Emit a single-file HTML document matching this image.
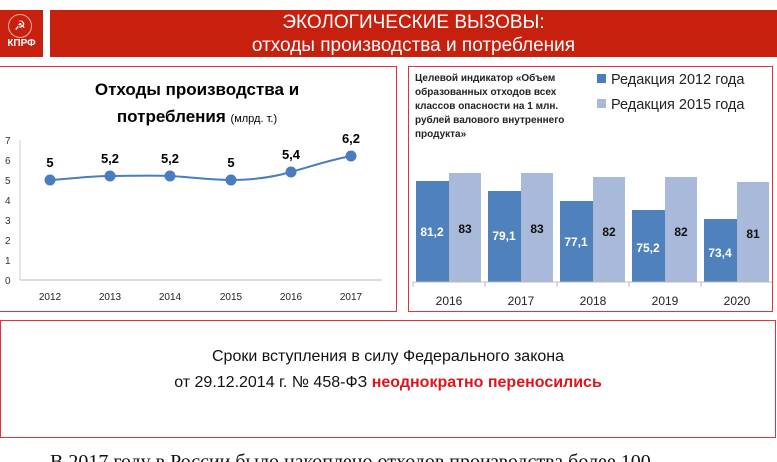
<!DOCTYPE html>
<html><head><meta charset="utf-8"><style>
body{margin:0;width:777px;height:462px;background:#fff;position:relative;overflow:hidden;font-family:"Liberation Sans","DejaVu Sans",sans-serif}
.abs{position:absolute}
</style></head><body>
<div class="abs" style="left:0;top:10px;width:43px;height:47px;background:#c8200f"></div>
<div class="abs" style="left:0;top:38px;width:43px;text-align:center;color:#fff;font-weight:bold;font-size:10px">КПРФ</div>
<div class="abs" style="left:8px;top:14px;width:22px;height:22px;border:1px solid #f0b0a0;border-radius:50%;color:#fff;font-size:13px;text-align:center;line-height:22px">☭</div>
<div class="abs" style="left:50px;top:10px;width:727px;height:47px;background:#c8200f"></div>
<div class="abs" style="left:50px;top:11px;width:727px;text-align:center;color:#fff;font-size:19px;line-height:23px">ЭКОЛОГИЧЕСКИЕ ВЫЗОВЫ:<br>отходы производства и потребления</div>

<div class="abs" style="left:-2px;top:66px;width:397px;height:244px;border:1.5px solid #e0343a"></div>
<div class="abs" style="left:408px;top:66px;width:363px;height:244px;border:1.5px solid #e0343a"></div>
<div class="abs" style="left:0;top:320px;width:774px;height:116px;border:1.5px solid #e0343a"></div>

<svg class="abs" style="left:0;top:0" width="777" height="462" font-family="Liberation Sans, DejaVu Sans, sans-serif">
<text x="197" y="95" text-anchor="middle" font-size="17" font-weight="bold">Отходы производства и</text>
<text x="197" y="122" text-anchor="middle" font-size="17" font-weight="bold">потребления <tspan font-size="11" font-weight="normal">(млрд. т.)</tspan></text>
<g font-size="10" fill="#333">
<text x="5" y="144">7</text><text x="5" y="164">6</text><text x="5" y="184">5</text><text x="5" y="204">4</text><text x="5" y="224">3</text><text x="5" y="244">2</text><text x="5" y="264">1</text><text x="5" y="284">0</text>
</g>
<line x1="20" y1="140" x2="20" y2="280" stroke="#ccc"/>
<line x1="20" y1="280" x2="382" y2="280" stroke="#bbb"/>
<g font-size="10" fill="#222" text-anchor="middle">
<text x="50" y="300">2012</text><text x="110" y="300">2013</text><text x="170" y="300">2014</text><text x="231" y="300">2015</text><text x="291" y="300">2016</text><text x="351" y="300">2017</text>
</g>
<path d="M50,180 C80,178 90,176 110,176 S150,175 170,176 S210,180 231,180 S270,178 291,172 S330,160 351,156" fill="none" stroke="#4a7cc0" stroke-width="2"/>
<g fill="#4a7cc0"><circle cx="50" cy="180" r="5.5"/><circle cx="110" cy="176" r="5.5"/><circle cx="170" cy="176" r="5.5"/><circle cx="231" cy="180" r="5.5"/><circle cx="291" cy="172" r="5.5"/><circle cx="351" cy="156" r="5.5"/></g>
<g font-size="13" font-weight="bold" text-anchor="middle">
<text x="50" y="167">5</text><text x="110" y="163">5,2</text><text x="170" y="163">5,2</text><text x="231" y="167">5</text><text x="291" y="159">5,4</text><text x="351" y="143">6,2</text>
</g>

<g font-size="10" font-weight="bold" fill="#222">
<text x="415" y="81">Целевой индикатор «Объем</text>
<text x="415" y="95">образованных отходов всех</text>
<text x="415" y="109">классов опасности на 1 млн.</text>
<text x="415" y="123">рублей валового внутреннего</text>
<text x="415" y="137">продукта»</text>
</g>
<rect x="597" y="74" width="9" height="9" fill="#4a7cc0"/>
<rect x="597" y="99" width="9" height="9" fill="#a8b9da"/>
<text x="611" y="84" font-size="14.5" fill="#222">Редакция 2012 года</text>
<text x="611" y="109" font-size="14.5" fill="#222">Редакция 2015 года</text>
<g fill="#4f81bd">
<rect x="416" y="181" width="33" height="101"/><rect x="488" y="191" width="33" height="91"/><rect x="560" y="201" width="33" height="81"/><rect x="632" y="210" width="33" height="72"/><rect x="704" y="219" width="33" height="63"/>
</g>
<g fill="#a8b9da">
<rect x="449" y="173" width="32" height="109"/><rect x="521" y="173" width="32" height="109"/><rect x="593" y="177" width="32" height="105"/><rect x="665" y="177" width="32" height="105"/><rect x="737" y="182" width="32" height="100"/>
</g>
<line x1="413" y1="282" x2="772" y2="282" stroke="#bbb"/>
<g stroke="#bbb"><line x1="413" y1="282" x2="413" y2="287"/><line x1="485" y1="282" x2="485" y2="287"/><line x1="557" y1="282" x2="557" y2="287"/><line x1="629" y1="282" x2="629" y2="287"/><line x1="701" y1="282" x2="701" y2="287"/></g>
<g font-size="12" font-weight="bold" text-anchor="middle">
<g fill="#fff"><text x="432" y="236">81,2</text><text x="504" y="240">79,1</text><text x="576" y="246">77,1</text><text x="648" y="252">75,2</text><text x="720" y="257">73,4</text></g>
<g fill="#111"><text x="465" y="233">83</text><text x="537" y="233">83</text><text x="609" y="236">82</text><text x="681" y="236">82</text><text x="753" y="238">81</text></g>
</g>
<g font-size="12" fill="#222" text-anchor="middle">
<text x="449" y="305">2016</text><text x="521" y="305">2017</text><text x="593" y="305">2018</text><text x="665" y="305">2019</text><text x="737" y="305">2020</text>
</g>

<text x="388" y="361" text-anchor="middle" font-size="16" fill="#111">Сроки вступления в силу Федерального закона</text>
<text x="388" y="387" text-anchor="middle" font-size="16" fill="#111">от 29.12.2014 г. № 458-ФЗ <tspan fill="#e0141e" font-weight="bold">неоднократно переносились</tspan></text>
<text x="50" y="468" font-size="20" font-family="Liberation Serif, serif" fill="#111">В 2017 году в России было накоплено отходов производства более 100</text>
</svg>
</body></html>
